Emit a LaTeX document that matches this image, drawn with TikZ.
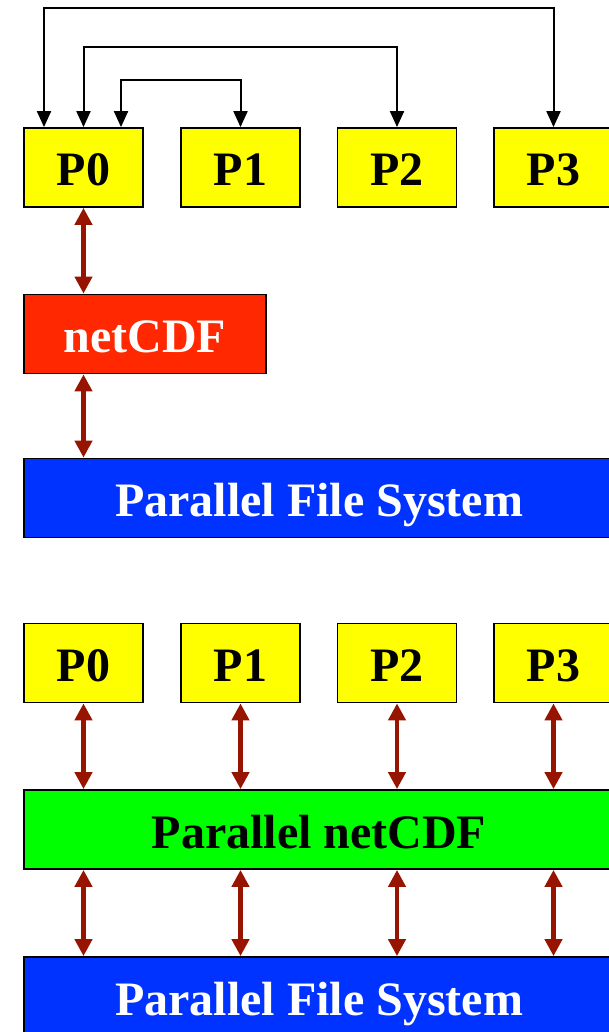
\documentclass[tikz,border=0pt]{standalone}
\usepackage{fontspec}
\setmainfont{Liberation Serif}
\usetikzlibrary{arrows.meta}
\definecolor{pyellow}{RGB}{255,255,0}
\definecolor{pred}{RGB}{255,40,0}
\definecolor{pblue}{RGB}{0,51,255}
\definecolor{pgreen}{RGB}{0,255,0}
\definecolor{arrowred}{RGB}{150,20,0}
\begin{document}
\begin{tikzpicture}[x=1pt,y=-1pt,
  box/.style={draw=black,line width=1.8pt,minimum height=79pt,inner sep=0pt,
    text height=37pt,text depth=0pt,
    font=\fontsize{48}{48}\selectfont\bfseries},
  proc/.style={box,fill=pyellow,minimum width=119pt,text=black},
  blk/.style={line width=2pt,black,{Triangle[length=16pt,width=14pt]}-{Triangle[length=16pt,width=14pt]}},
  red/.style={line width=4.5pt,arrowred,{Triangle[length=17pt,width=17pt]}-{Triangle[length=17pt,width=17pt]}}
]
\useasboundingbox (0,0) rectangle (609,1032);
\clip (0,0) rectangle (609,1032);
\fill[white] (0,0) rectangle (609,1032);
% top half
\node[proc] (P0) at (83.5,167.5) {P0};
\node[proc] (P1) at (240.5,167.5) {P1};
\node[proc] (P2) at (397,167.5) {P2};
\node[proc] (P3) at (553.5,167.5) {P3};
\node[box,fill=pred,text=white,minimum width=242pt] (nc) at (145,334) {netCDF};
\node[box,fill=pblue,text=white,minimum width=590pt] (pfs1) at (319,498) {Parallel File System};
\coordinate (a0) at ([xshift=-39.5pt]P0.north);
\coordinate (b0) at (P0.north);
\coordinate (c0) at ([xshift=37.5pt]P0.north);
\draw[blk] (a0) -- (a0 |- 0,8) -| (P3.north);
\draw[blk] (b0) -- (b0 |- 0,47) -| (P2.north);
\draw[blk] (c0) -- (c0 |- 0,80) -| (P1.north);
\draw[red] (P0.south) -- (P0.south |- nc.north);
\draw[red] (P0.south |- nc.south) -- (P0.south |- pfs1.north);
% bottom half
\node[proc] (Q0) at (83.5,663) {P0};
\node[proc] (Q1) at (240.5,663) {P1};
\node[proc] (Q2) at (397,663) {P2};
\node[proc] (Q3) at (553.5,663) {P3};
\node[box,fill=pgreen,text=black,minimum width=590pt] (pnc) at (319,829.5) {Parallel netCDF};
\node[box,fill=pblue,text=white,minimum width=590pt] (pfs2) at (319,996.5) {Parallel File System};
\foreach \q in {Q0,Q1,Q2,Q3}{
  \draw[red] (\q.south) -- (\q.south |- pnc.north);
  \draw[red] (\q.south |- pnc.south) -- (\q.south |- pfs2.north);
}
\end{tikzpicture}
\end{document}
